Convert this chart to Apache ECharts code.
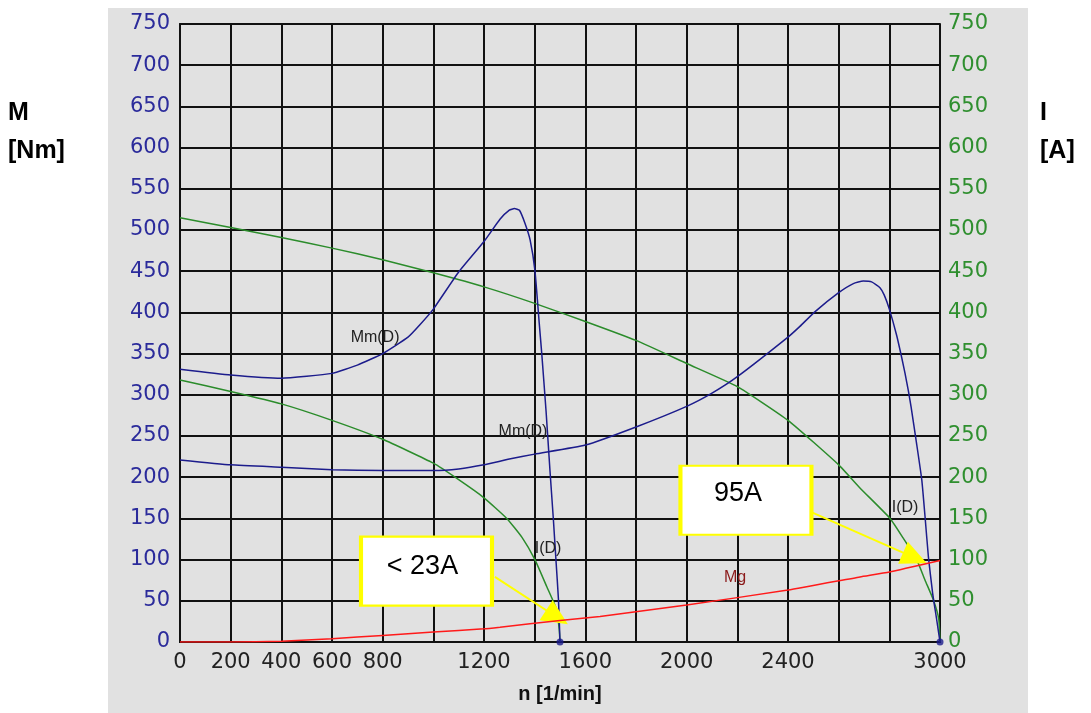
<!DOCTYPE html>
<html>
<head>
<meta charset="utf-8">
<script src="https://cdn.jsdelivr.net/npm/echarts@6/dist/echarts.min.js"></script>
<style>
  html, body { margin: 0; padding: 0; background: #fff; }
  #chart { width: 1091px; height: 713px; }
</style>
</head>
<body>
<div id="chart"></div>
<script>
// values
var xTickLabels = [0, 200, 400, 600, 800, 1200, 1600, 2000, 2400, 3000];

var mmLowN = [0, 200, 400, 600, 700, 800, 900, 947, 1000, 1100, 1200, 1263, 1300, 1320, 1340, 1362, 1382, 1401, 1418, 1428, 1445, 1460, 1474, 1485, 1494, 1500];
var mmLowM = [331, 324, 320, 326, 336, 350, 370, 385, 404, 449, 486, 513, 524, 526, 524, 508, 488, 451, 387, 350, 280, 210, 148, 95, 51, 0];

var mmHighN = [0, 200, 400, 600, 800, 1000, 1100, 1200, 1300, 1400, 1600, 1800, 2000, 2100, 2200, 2400, 2447, 2507, 2600, 2658, 2697, 2730, 2763, 2780, 2800, 2829, 2849, 2862, 2875, 2886, 2907, 2928, 2941, 2954, 2971, 2987, 3000];
var mmHighM = [221, 215, 212, 209, 208, 208, 210, 215, 222, 228, 239, 261, 286, 302, 322, 370, 383, 401, 424, 435, 438, 437, 430, 421, 404, 372, 345, 326, 305, 285, 242, 197, 152, 104, 59, 27, 0];

var iLowN = [0, 200, 400, 600, 800, 1000, 1100, 1200, 1290, 1350, 1401, 1448, 1487, 1497, 1500];
var iLowI = [318, 304, 289, 269, 246, 217, 197, 175, 150, 127, 100, 67, 39, 15, 0];

var iHighN = [0, 200, 400, 600, 800, 1000, 1200, 1400, 1600, 1800, 2000, 2200, 2400, 2600, 2684, 2803, 2855, 2908, 2941, 2974, 2995, 3000];
var iHighI = [515, 503, 491, 478, 464, 448, 431, 411, 389, 366, 338, 310, 269, 215, 187, 150, 126, 100, 75, 51, 28, 0];

var mgN = [0, 200, 400, 600, 800, 1000, 1200, 1263, 1500, 1658, 2000, 2400, 2684, 2800, 3000];
var mgM = [0, 0, 1, 4, 8, 12, 16, 18, 26, 31, 45, 63, 79, 85, 99];

var endPoints = [[1500, 0], [3000, 0]];

function pairs(xs, ys) {
	return xs.map(function (x, i) { return [x, ys[i]]; });
}

var blue = '#1c1c8c';
var green = '#2b8c2b';
var red = '#ff1a1a';

function curveLabel(coord, text, color) {
	return {
		coord: coord,
		label: { show: true, formatter: text, color: color, fontSize: 16, fontFamily: 'Liberation Sans' }
	};
}

var myChart = echarts.init(document.getElementById('chart'));

var option = {
	animation: false,
	backgroundColor: '#ffffff',
	graphic: [
		{ type: 'rect', z: -10, shape: { x: 108, y: 8, width: 920, height: 705 }, style: { fill: '#e1e1e1' } },
		{ type: 'text', left: 8, top: 94, style: { text: 'M\n[Nm]', font: 'bold 25px "Liberation Sans"', fill: '#000', lineHeight: 38 } },
		{ type: 'text', left: 1040, top: 94, style: { text: 'I\n[A]', font: 'bold 25px "Liberation Sans"', fill: '#000', lineHeight: 38 } }
	],
	grid: {
		left: 180, right: 151, top: 24, bottom: 71,
		show: true, borderColor: '#444', borderWidth: 2, backgroundColor: 'transparent'
	},
	xAxis: {
		type: 'value', min: 0, max: 3000, interval: 200,
		name: 'n [1/min]', nameLocation: 'middle', nameGap: 42,
		nameTextStyle: { fontSize: 20, fontWeight: 'bold', color: '#111', fontFamily: 'Liberation Sans' },
		axisLine: { show: true, lineStyle: { color: '#111', width: 2 } },
		axisTick: { show: false },
		axisLabel: {
			color: '#222', fontSize: 21, fontFamily: 'DejaVu Sans', margin: 10,
			formatter: function (v) { return xTickLabels.indexOf(v) >= 0 ? String(v) : ''; }
		},
		splitLine: { show: true, lineStyle: { color: '#111', width: 2 } }
	},
	yAxis: [
		{
			type: 'value', min: 0, max: 750, interval: 50, position: 'left',
			axisLine: { show: true, lineStyle: { color: '#111', width: 2 } },
			axisTick: { show: false },
			axisLabel: { color: '#2b2b9b', fontSize: 21, fontFamily: 'DejaVu Sans', margin: 10 },
			splitLine: { show: true, lineStyle: { color: '#111', width: 2 } }
		},
		{
			type: 'value', min: 0, max: 750, interval: 50, position: 'right',
			axisLine: { show: false },
			axisTick: { show: false },
			axisLabel: { color: '#2f8f2f', fontSize: 21, fontFamily: 'DejaVu Sans', margin: 8 },
			splitLine: { show: false }
		}
	],
	series: [
		{
			name: 'Mm(D) 1500', type: 'line', data: pairs(mmLowN, mmLowM), yAxisIndex: 0,
			showSymbol: false, smooth: 0.15, lineStyle: { color: blue, width: 1.5 }, z: 4,
			markPoint: { symbol: 'circle', symbolSize: 1, itemStyle: { color: 'transparent' }, silent: true,
				data: [curveLabel([770, 369], 'Mm(D)', '#222')] }
		},
		{
			name: 'Mm(D) 3000', type: 'line', data: pairs(mmHighN, mmHighM), yAxisIndex: 0,
			showSymbol: false, smooth: 0.15, lineStyle: { color: blue, width: 1.5 }, z: 4,
			markPoint: { symbol: 'circle', symbolSize: 1, itemStyle: { color: 'transparent' }, silent: true,
				data: [curveLabel([1354, 255], 'Mm(D)', '#222')] }
		},
		{
			name: 'I(D) 1500', type: 'line', data: pairs(iLowN, iLowI), yAxisIndex: 1,
			showSymbol: false, smooth: 0.15, lineStyle: { color: green, width: 1.5 }, z: 3,
			markPoint: { symbol: 'circle', symbolSize: 1, itemStyle: { color: 'transparent' }, silent: true,
				data: [curveLabel([1453, 113], 'I(D)', '#222')] }
		},
		{
			name: 'I(D) 3000', type: 'line', data: pairs(iHighN, iHighI), yAxisIndex: 1,
			showSymbol: false, smooth: 0.15, lineStyle: { color: green, width: 1.5 }, z: 3,
			markPoint: { symbol: 'circle', symbolSize: 1, itemStyle: { color: 'transparent' }, silent: true,
				data: [curveLabel([2862, 163], 'I(D)', '#222')] }
		},
		{
			name: 'Mg', type: 'line', data: pairs(mgN, mgM), yAxisIndex: 0,
			showSymbol: false, smooth: 0.15, lineStyle: { color: red, width: 1.5 }, z: 5,
			markPoint: { symbol: 'circle', symbolSize: 1, itemStyle: { color: 'transparent' }, silent: true,
				data: [curveLabel([2191, 78], 'Mg', '#8b1a1a')] }
		},
		{
			name: 'ends', type: 'scatter', data: endPoints, yAxisIndex: 0,
			symbol: 'circle', symbolSize: 7, itemStyle: { color: blue }, z: 6
		},
		{
			// annotation boxes and arrows
			name: 'notes', type: 'line', data: [], yAxisIndex: 0, z: 8,
			markLine: {
				silent: true, symbol: ['none', 'triangle'], symbolSize: [24, 26],
				label: { show: false },
				lineStyle: { color: '#ffff00', width: 2, type: 'solid' },
				data: [
					[{ coord: [1243, 79] }, { coord: [1488, 30] }],
					[{ coord: [2474, 160] }, { coord: [2901, 102] }]
				]
			},
			markPoint: {
				silent: true, symbol: 'rect', symbolSize: [131, 69],
				itemStyle: { color: '#ffffff', borderColor: '#ffff00', borderWidth: 3 },
				label: { show: true, color: '#000', fontSize: 27, fontFamily: 'Liberation Sans' },
				data: [
					{ coord: [973, 86], label: { formatter: '< 23A', offset: [-4, -5] } },
					{ coord: [2234, 172], label: { formatter: '95A', offset: [-8, -7] } }
				]
			}
		}
	]
};
myChart.setOption(option);
</script>
</body>
</html>
